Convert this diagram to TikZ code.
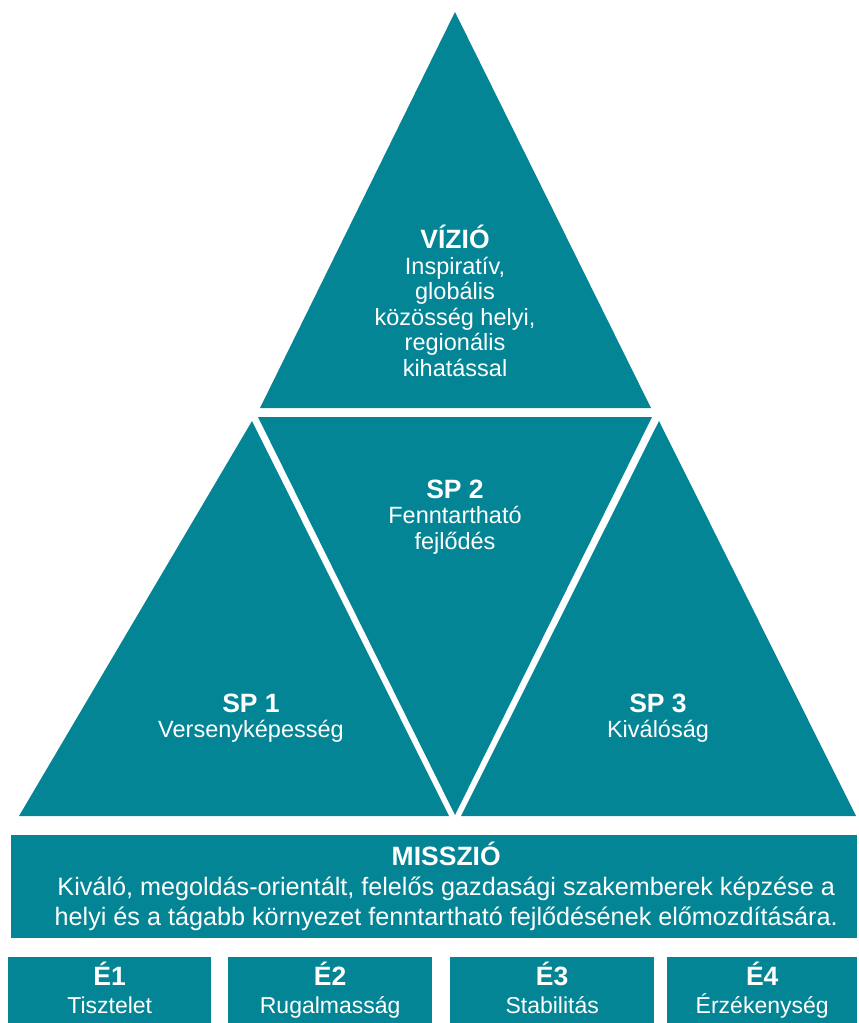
\documentclass[tikz,border=0pt]{standalone}
\usepackage{fontspec}
\setmainfont{Liberation Sans}
\usetikzlibrary{positioning}
\definecolor{petrol}{RGB}{3,133,149}
\tikzset{
  piece/.style={fill=petrol, draw=none},
  txt/.style={text=white, align=center, inner sep=0pt, font=\fontsize{23.5}{25.5}\selectfont},
  panel/.style={fill=petrol, draw=none, text=white, align=center, inner sep=0pt, anchor=north west}
}
\newcommand{\hd}[1]{{\fontsize{26.5}{30}\selectfont\bfseries #1}}

\begin{document}
\begin{tikzpicture}[x=1pt,y=-1pt]
  \useasboundingbox (0,0) rectangle (859,1023);
  % corners of the triangles
  \coordinate (V1) at (455,12);  \coordinate (V2) at (651,408); \coordinate (V3) at (260,408);
  \coordinate (M1) at (258,417); \coordinate (M2) at (652,417); \coordinate (M3) at (455,815);
  \coordinate (L1) at (252,421); \coordinate (L2) at (449,816); \coordinate (L3) at (19,816);
  \coordinate (R1) at (659,421); \coordinate (R2) at (856,816); \coordinate (R3) at (461,816);

  \fill[piece] (V1) -- (V2) -- (V3) -- cycle;
  \fill[piece] (M1) -- (M2) -- (M3) -- cycle;
  \fill[piece] (L1) -- (L2) -- (L3) -- cycle;
  \fill[piece] (R1) -- (R2) -- (R3) -- cycle;

  \begin{scope}[every node/.style={txt}]
    \node (vizio) at (455,301) {\hd{VÍZIÓ}\\Inspiratív,\\globális\\közösség helyi,\\regionális\\kihatással};
    \node (sp2) at (455,517) {\hd{SP 2}\\Fenntartható\\fejlődés};
    \node (sp1) at (251,718) {\hd{SP 1}\\Versenyképesség};
    \node (sp3) at (658,718) {\hd{SP 3}\\Kiválóság};
  \end{scope}

  \node[panel, minimum width=846pt, minimum height=103pt] (missio) at (11,835) {};
  \node[txt, font=\fontsize{25.2}{30}\selectfont] (missiotxt) at ([xshift=12pt]missio.center)
    {\hd{MISSZIÓ}\\Kiváló, megoldás-orientált, felelős gazdasági szakemberek képzése a\\helyi és a tágabb környezet fenntartható fejlődésének előmozdítására.};

  \node[panel, minimum width=203pt, minimum height=66pt] (e1) at (8,957) {};
  \node[panel, minimum width=204pt, minimum height=66pt] (e2) at (228,957) {};
  \node[panel, minimum width=204pt, minimum height=66pt] (e3) at (450,957) {};
  \node[panel, minimum width=190pt, minimum height=66pt] (e4) at (667,957) {};

  \begin{scope}[every node/.style={txt, anchor=north, font=\fontsize{23}{28}\selectfont}]
    \node (e1txt) at (e1.north |- 0,962) {\hd{É1}\\Tisztelet};
    \node (e2txt) at (e2.north |- 0,962) {\hd{É2}\\Rugalmasság};
    \node (e3txt) at (e3.north |- 0,962) {\hd{É3}\\Stabilitás};
    \node (e4txt) at (e4.north |- 0,962) {\hd{É4}\\Érzékenység};
  \end{scope}
\end{tikzpicture}
\end{document}
